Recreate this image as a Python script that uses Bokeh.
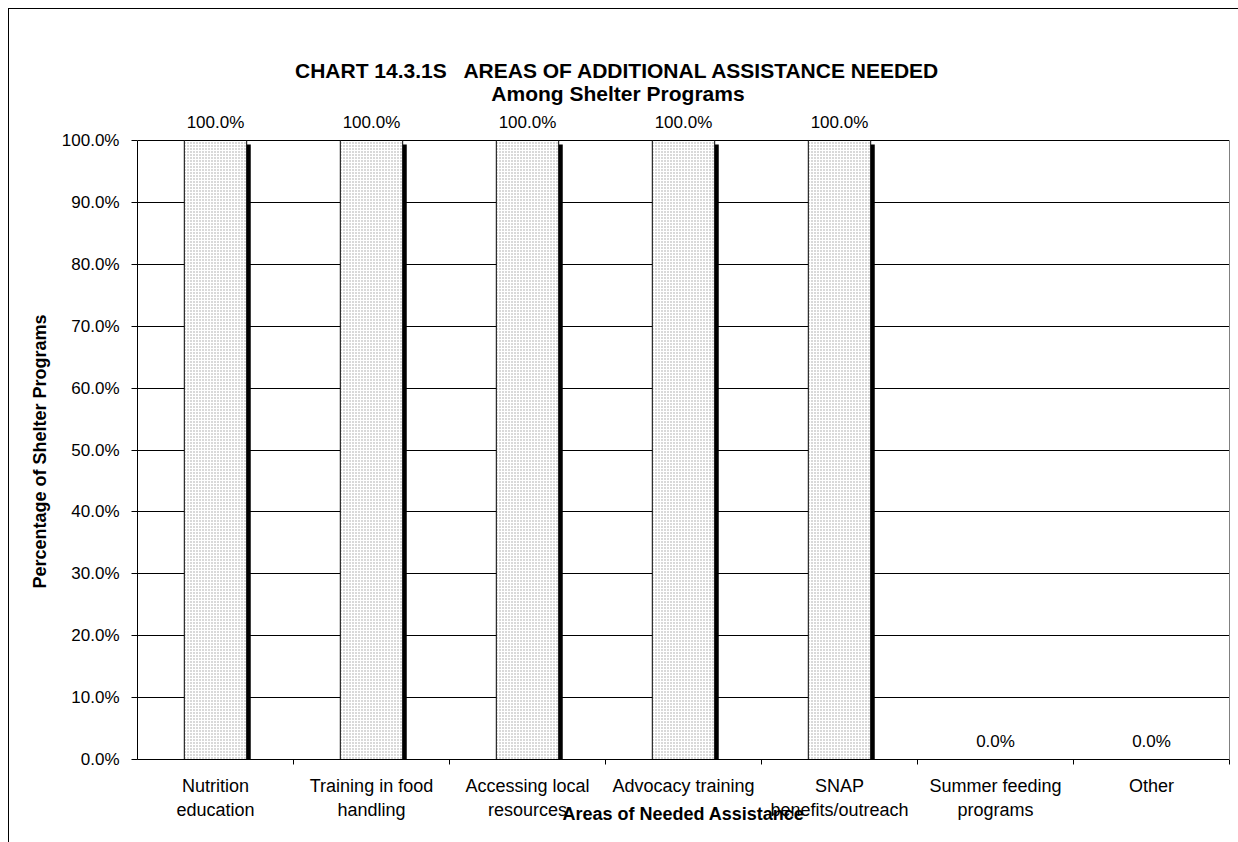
from bokeh.plotting import figure
from bokeh.models import (ColumnDataSource, FixedTicker, PrintfTickFormatter, LabelSet, Label,
                          Range1d, LinearAxis, Title)
from bokeh.core.properties import value
from bokeh.embed import file_html
from bokeh.resources import INLINE

# ---- data ----
categories = ["Nutrition\neducation", "Training in food\nhandling", "Accessing local\nresources",
              "Advocacy training", "SNAP\nbenefits/outreach", "Summer feeding\nprograms", "Other"]
values = [100.0, 100.0, 100.0, 100.0, 100.0, 0.0, 0.0]
y_ticks = [0, 10, 20, 30, 40, 50, 60, 70, 80, 90, 100]
title_text = "CHART 14.3.1S\u00a0\u00a0 AREAS OF ADDITIONAL ASSISTANCE NEEDED"
subtitle_text = "Among Shelter Programs"
x_title = "Areas of Needed Assistance"
y_title = "Percentage of Shelter Programs"

FONT = "Liberation Sans"
n = len(categories)
xs = [i + 0.5 for i in range(n)]
labels = [f"{v:.1f}%" for v in values]
shadow_top = [max(v - 0.65, 0) for v in values]

# frame extends above the 100% line so that titles/labels are not clipped
PLOT_PX = 619.0       # pixels from 0% to 100%
FRAME_PX = 718.0      # frame height in pixels
y_end = 100.0 * FRAME_PX / PLOT_PX

src = ColumnDataSource(dict(x=xs, top=values, lab=labels,
                            xs_shadow=[x + 0.026 for x in xs], top_shadow=shadow_top))

p = figure(width=1230, height=834, output_backend="svg", toolbar_location=None,
           x_range=Range1d(0, n), y_range=Range1d(0, y_end),
           min_border_left=128, min_border_right=10, min_border_top=32, min_border_bottom=84)
p.margin = (8, 0, 0, 8)
p.styles = {"border-top": "1px solid black", "border-left": "1px solid black"}
p.background_fill_color = "white"
p.border_fill_color = "white"
p.outline_line_color = None

# shadow then bar
p.vbar(x="xs_shadow", top="top_shadow", bottom=0, width=0.4, source=src,
       fill_color="black", line_color=None)
p.vbar(x="x", top="top", bottom=0, width=0.4, source=src,
       fill_color="white", line_color="black", line_width=1,
       hatch_pattern="dot", hatch_color="#a0a0a0", hatch_scale=3, hatch_weight=1)

# grid
p.xgrid.visible = False
p.ygrid.grid_line_color = "black"
p.ygrid.grid_line_width = 1
p.ygrid.ticker = FixedTicker(ticks=y_ticks)

# y axis
p.yaxis.ticker = FixedTicker(ticks=y_ticks)
p.yaxis.bounds = (0, 100)
p.yaxis.formatter = PrintfTickFormatter(format="%.1f%%")
p.yaxis.major_tick_out = 6
p.yaxis.major_tick_in = 0
p.yaxis.minor_tick_out = 0
p.yaxis.minor_tick_in = 0
p.yaxis.axis_line_color = "black"
p.yaxis.major_label_text_font = FONT
p.yaxis.major_label_text_font_size = "17px"
p.yaxis.major_label_text_color = "black"
p.yaxis.major_label_standoff = 12

# y axis title (as a side title so it can be centred on the 0-100% span)
p.add_layout(Title(text=y_title, align="left", offset=171, text_font=FONT,
                   text_font_size="18px", text_font_style="bold", text_color="black",
                   standoff=17), "left")

# right border of plot area
right_axis = LinearAxis(ticker=FixedTicker(ticks=[]), bounds=(0, 100),
                        axis_line_color="#808080", major_tick_out=0, major_tick_in=0,
                        minor_tick_out=0, minor_tick_in=0, major_label_text_font_size="0px")
p.add_layout(right_axis, "right")

# x axis
p.xaxis.ticker = FixedTicker(ticks=xs, minor_ticks=[i for i in range(1, n + 1)])
p.xaxis.major_label_overrides = {x: c for x, c in zip(xs, categories)}
p.xaxis.major_tick_out = 0
p.xaxis.major_tick_in = 0
p.xaxis.minor_tick_out = 5
p.xaxis.minor_tick_in = 0
p.xaxis.minor_tick_line_color = "black"
p.xaxis.axis_line_color = "black"
p.xaxis.major_label_text_font = FONT
p.xaxis.major_label_text_font_size = "18px"
p.xaxis.major_label_text_color = "black"
p.xaxis.major_label_standoff = 11
p.xaxis.axis_label = x_title
p.xaxis.axis_label_text_font = FONT
p.xaxis.axis_label_text_font_size = "18px"
p.xaxis.axis_label_text_font_style = "bold"
p.xaxis.axis_label_text_color = "black"
p.xaxis.axis_label_standoff = -19

# value labels
p.add_layout(LabelSet(x="x", y="top", text="lab", source=src, text_align="center",
                      text_baseline="alphabetic", y_offset=13, text_font=value(FONT),
                      text_font_size=value("17px"), text_color="black"))

# titles
p.add_layout(Label(x=3.08, y=111.3, text=title_text, text_align="center", text_baseline="middle",
                   text_font=FONT, text_font_size="21px", text_font_style="bold", text_color="black"))
p.add_layout(Label(x=3.08, y=107.6, text=subtitle_text, text_align="center", text_baseline="middle",
                   text_font=FONT, text_font_size="21px", text_font_style="bold", text_color="black"))

open("out.html", "w").write(file_html(p, INLINE))
